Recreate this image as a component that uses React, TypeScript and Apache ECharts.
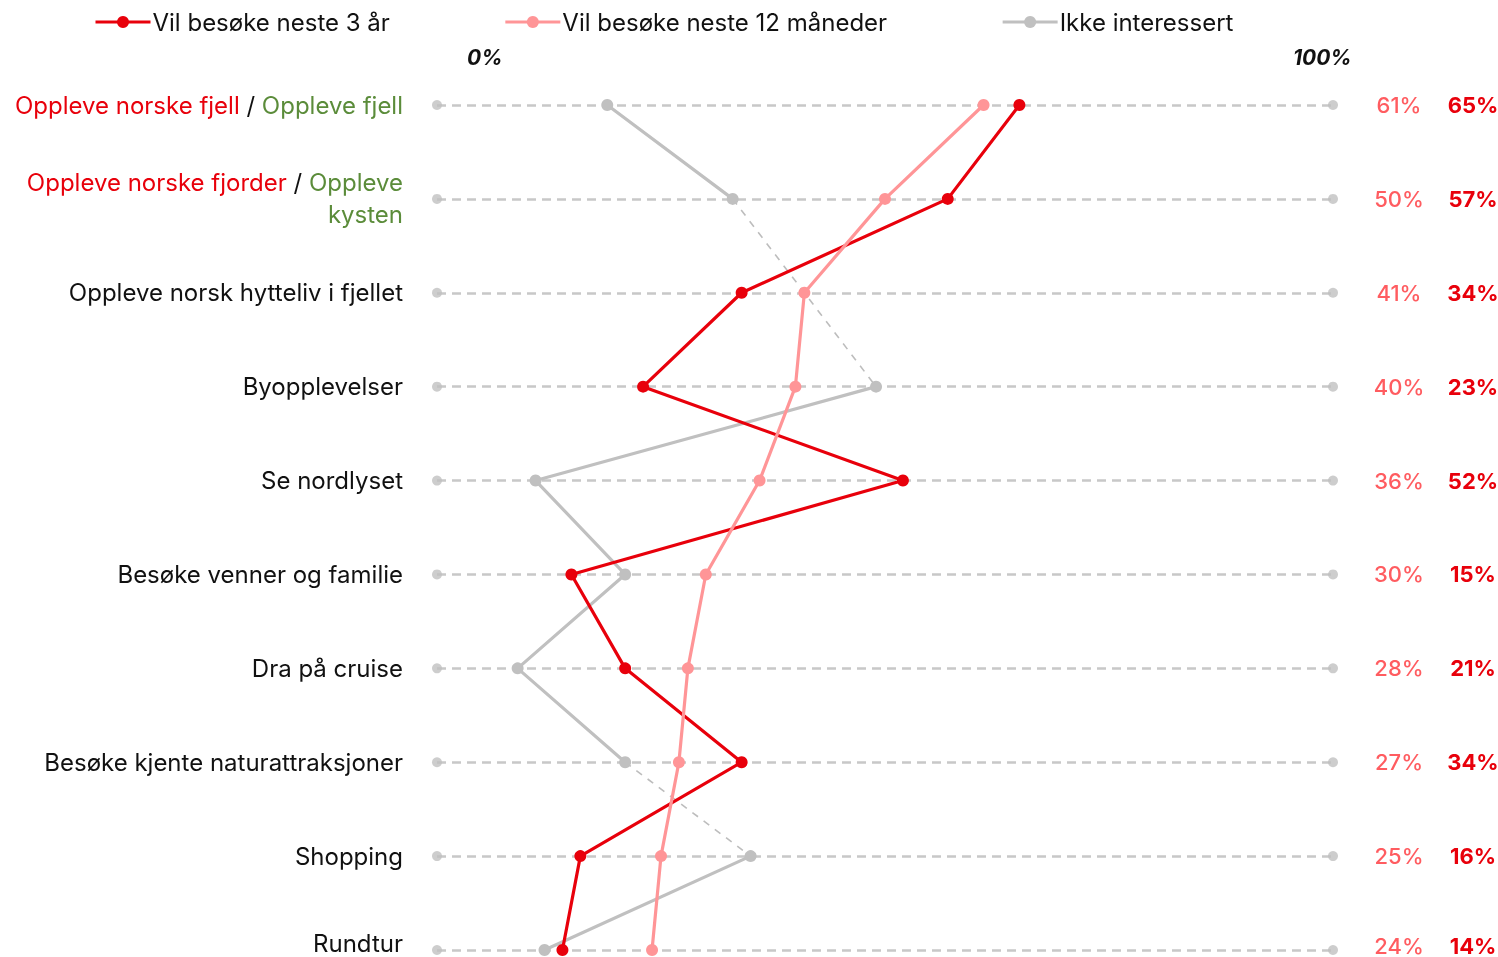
import React, { useEffect, useRef } from "react";
import * as echarts from "echarts";

const categories = [
  "Oppleve norske fjell / Oppleve fjell",
  "Oppleve norske fjorder / Oppleve kysten",
  "Oppleve norsk hytteliv i fjellet",
  "Byopplevelser",
  "Se nordlyset",
  "Besøke venner og familie",
  "Dra på cruise",
  "Besøke kjente naturattraksjoner",
  "Shopping",
  "Rundtur",
];

const seriesNames = ["Vil besøke neste 3 år", "Vil besøke neste 12 måneder", "Ikke interessert"];
const vil3Ar = [65, 57, 34, 23, 52, 15, 21, 34, 16, 14];
const vil12Mnd = [61, 50, 41, 40, 36, 30, 28, 27, 25, 24];
const ikkeInteressert: (number | null)[] = [19, 33, null, 49, 11, 21, 9, 21, 35, 12];
const axisTicks = ["0%", "100%"];

const RED = "#e8000b";
const PINK = "#ff9597";
const PINK_TEXT = "#ff5c60";
const GRAY = "#c0c0c0";
const GREEN = "#5b8c3a";
const FONT = "Inter, 'Noto Sans', sans-serif";
const LAST = categories.length - 1;

const leftLabel = (v: string, i: number) => {
  const k = i === LAST ? "kl" : "k";
  if (v === categories[0]) return "{r|Oppleve norske fjell}{k| / }{g|Oppleve fjell}";
  if (v === categories[1]) return "{r|Oppleve norske fjorder}{k| / }{g|Oppleve}\n{g|kysten}";
  return "{" + k + "|" + v + "}";
};

export default function App() {
  const ref = useRef<HTMLDivElement>(null);
  useEffect(() => {
    if (!ref.current) return;
    document.body.style.margin = "0";
    document.body.style.overflow = "hidden";
    const chart = echarts.init(ref.current, undefined, { renderer: "svg", width: 1498, height: 957 });

    const graySolidA = ikkeInteressert.map((v, i) => (i <= 7 ? v : null));
    const graySolidB = ikkeInteressert.map((v, i) => (i >= 8 ? v : null));
    const grayDashA = ikkeInteressert.map((v, i) => (i === 1 || i === 3 ? v : null));
    const grayDashB = ikkeInteressert.map((v, i) => (i === 7 || i === 8 ? v : null));
    const endDots: [number, string][] = [];
    categories.forEach((c) => {
      endDots.push([0, c]);
      endDots.push([100, c]);
    });

    const lineBase = {
      type: "line" as const,
      symbol: "circle",
      showSymbol: true,
      connectNulls: false,
    };

    const labelBase = { fontSize: 24, fontFamily: FONT, align: "right", lineHeight: 32 };

    chart.setOption({
      animation: false,
      textStyle: { fontFamily: FONT },
      legend: {
        data: seriesNames,
        left: 89,
        top: 5,
        itemWidth: 55,
        itemHeight: 15,
        itemGap: 114,
        lineStyle: { width: 3 },
        textStyle: { fontSize: 24, color: "#111", fontFamily: FONT, padding: [0, 0, 0, -3] },
      },
      grid: { left: 437, right: 165, top: 105, bottom: 7, containLabel: false, outerBoundsMode: "none" },
      xAxis: { type: "value", min: 0, max: 100, show: false },
      yAxis: [
        {
          type: "category",
          data: categories,
          inverse: true,
          boundaryGap: false,
          axisLine: { show: false },
          axisTick: { show: false },
          splitLine: { show: true, lineStyle: { color: "#c8c8c8", width: 2.5, type: [9, 6] } },
          axisLabel: {
            margin: 34,
            formatter: leftLabel,
            rich: {
              r: { ...labelBase, color: RED },
              g: { ...labelBase, color: GREEN },
              k: { ...labelBase, color: "#111" },
              kl: { ...labelBase, color: "#111", lineHeight: 26, padding: [0, 0, 13, 0] },
            },
          },
        },
        {
          type: "category",
          data: categories,
          inverse: true,
          boundaryGap: false,
          position: "right",
          axisLine: { show: false },
          axisTick: { show: false },
          splitLine: { show: false },
          axisLabel: {
            margin: 37,
            align: "left",
            formatter: (_v: string, i: number) =>
              i === LAST ? `{pl|${vil12Mnd[i]}%}{ql|${vil3Ar[i]}%}` : `{p|${vil12Mnd[i]}%}{q|${vil3Ar[i]}%}`,
            rich: {
              p: { color: PINK_TEXT, fontSize: 22, fontWeight: 500, fontFamily: FONT, width: 58, align: "center" },
              q: { color: RED, fontSize: 22, fontWeight: 700, fontFamily: FONT, width: 90, align: "center" },
              pl: { color: PINK_TEXT, fontSize: 22, fontWeight: 500, fontFamily: FONT, width: 58, align: "center", padding: [0, 0, 9, 0] },
              ql: { color: RED, fontSize: 22, fontWeight: 700, fontFamily: FONT, width: 90, align: "center", padding: [0, 0, 9, 0] },
            },
          },
        },
      ],
      graphic: [
        {
          type: "text",
          left: 467,
          top: 47,
          style: { text: axisTicks[0], font: `italic bold 21px ${FONT}`, fill: "#111" },
        },
        {
          type: "text",
          left: 1293,
          top: 47,
          style: { text: axisTicks[1], font: `italic bold 21px ${FONT}`, fill: "#111" },
        },
      ],
      series: [
        {
          type: "scatter",
          name: "ends",
          data: endDots,
          symbolSize: 10,
          itemStyle: { color: GRAY },
          silent: true,
          z: 1,
        },
        {
          ...lineBase,
          name: "dashA",
          data: grayDashA,
          connectNulls: true,
          showSymbol: false,
          lineStyle: { color: "#bdbdbd", width: 1.6, type: [7, 7] },
          z: 2,
        },
        {
          ...lineBase,
          name: "dashB",
          data: grayDashB,
          connectNulls: true,
          showSymbol: false,
          lineStyle: { color: "#bdbdbd", width: 1.6, type: [7, 7] },
          z: 2,
        },
        {
          ...lineBase,
          name: seriesNames[2],
          data: graySolidA,
          symbolSize: 12,
          itemStyle: { color: GRAY },
          lineStyle: { color: GRAY, width: 3.2 },
          z: 3,
        },
        {
          ...lineBase,
          name: "Ikke interessert (2)",
          data: graySolidB,
          symbolSize: 12,
          itemStyle: { color: GRAY },
          lineStyle: { color: GRAY, width: 3.2 },
          z: 3,
        },
        {
          ...lineBase,
          name: seriesNames[0],
          data: vil3Ar,
          symbolSize: 12,
          itemStyle: { color: RED },
          lineStyle: { color: RED, width: 3.2 },
          z: 4,
        },
        {
          ...lineBase,
          name: seriesNames[1],
          data: vil12Mnd,
          symbolSize: 12,
          itemStyle: { color: PINK },
          lineStyle: { color: PINK, width: 3.2 },
          z: 5,
        },
      ],
    });
    return () => chart.dispose();
  }, []);

  return <div ref={ref} style={{ width: 1498, height: 957, position: "fixed", left: 0, top: 0 }} />;
}
